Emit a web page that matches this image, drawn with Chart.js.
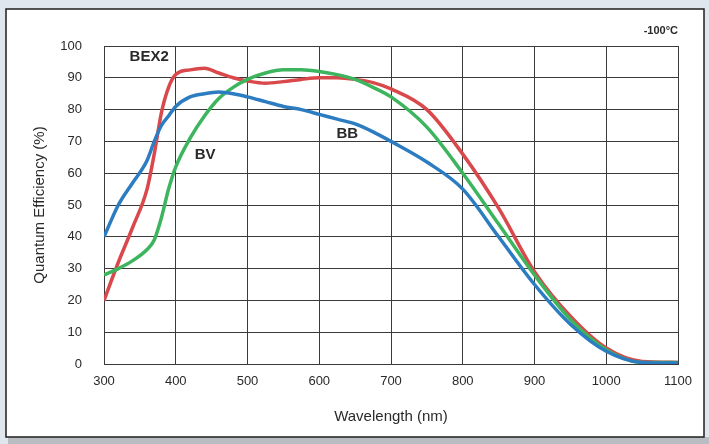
<!DOCTYPE html>
<html>
<head>
<meta charset="utf-8">
<script src="https://cdn.jsdelivr.net/npm/chart.js@4/dist/chart.umd.min.js"></script>
<style>
  html, body { margin: 0; padding: 0; background: #dfe6ee; }
  #wrap { width: 709px; height: 444px; position: relative; }
</style>
</head>
<body>
<div id="wrap"><canvas id="qe"></canvas></div>
<script>
// wavelength samples (nm)
const wavelengths = [300, 320, 340, 360, 370, 380, 390, 400, 420, 440, 460, 480, 500, 525, 550, 575, 600, 625, 650, 675, 700, 750, 800, 850, 900, 950, 1000, 1050, 1100]

// quantum efficiency (%)
const bex2 = [20, 32, 43, 55, 66, 79, 87, 91, 92.5, 93, 91.5, 90, 89, 88.3, 88.8, 89.5, 90, 90, 89.5, 88.5, 86.5, 80, 66, 49, 29, 15, 5, 0.8, 0.5]
const bv   = [28, 30, 32.5, 36, 39, 46, 55, 62, 71, 78, 83.5, 87, 89.5, 91.5, 92.5, 92.5, 92, 91, 89.5, 87, 84, 74.5, 60, 44, 28, 14, 4.5, 0.5, 0.5]
const bb   = [40, 50, 57, 64, 70, 75, 78, 81, 84, 85, 85.5, 85, 84, 82.5, 81, 80, 78.5, 77, 75.5, 73, 70, 63.5, 55, 40, 25, 12.5, 4, 0.5, 0.3]

const xTicks = [300, 400, 500, 600, 700, 800, 900, 1000, 1100]
const yTicks = [0, 10, 20, 30, 40, 50, 60, 70, 80, 90, 100]

// curve labels placed in data space
const curveLabels = [
  { text: "BEX2", x: 363, y: 96.5 },
  { text: "BV", x: 441, y: 65.7 },
  { text: "BB", x: 639, y: 72.3 }
]
const tempNote = "-100\u00b0C"

const red = "#d9484b"
const green = "#3db45e"
const blue = "#2b7cc0"
const ink = "#2a2a2a"

const toPoints = vals => wavelengths.map((w, i) => ({ x: w, y: vals[i] }))

const framePlugin = {
  id: "frame",
  beforeDraw(chart) {
    const ctx = chart.ctx
    ctx.save()
    ctx.fillStyle = "#b9bcc0"
    ctx.fillRect(8, 437, 701, 7)
    ctx.fillStyle = "#ffffff"
    ctx.fillRect(6, 9, 698, 428)
    ctx.strokeStyle = "#1e1e1e"
    ctx.lineWidth = 1.5
    ctx.strokeRect(6, 9, 698, 428)
    ctx.restore()
  },
  afterDraw(chart) {
    const { ctx, scales } = chart
    ctx.save()
    ctx.fillStyle = ink
    ctx.font = "bold 15px 'Liberation Sans', Arial, sans-serif"
    ctx.textAlign = "center"
    ctx.textBaseline = "middle"
    curveLabels.forEach(l => {
      ctx.fillText(l.text, scales.x.getPixelForValue(l.x), scales.y.getPixelForValue(l.y))
    })
    ctx.font = "bold 11px 'Liberation Sans', Arial, sans-serif"
    ctx.textAlign = "right"
    ctx.fillText(tempNote, chart.chartArea.right, 31)
    ctx.restore()
  }
}

new Chart(document.getElementById("qe"), {
  type: "line",
  data: {
    datasets: [
      { label: "BB", data: toPoints(bb), borderColor: blue },
      { label: "BV", data: toPoints(bv), borderColor: green },
      { label: "BEX2", data: toPoints(bex2), borderColor: red }
    ].map(d => ({ ...d, borderWidth: 3.5, pointRadius: 0, cubicInterpolationMode: "monotone", fill: false }))
  },
  options: {
    responsive: true,
    maintainAspectRatio: false,
    animation: false,
    layout: { padding: { left: 20, right: 31, top: 46, bottom: 10 } },
    plugins: { legend: { display: false }, tooltip: { enabled: false } },
    scales: {
      x: {
        type: "linear",
        min: 300,
        max: 1100,
        afterBuildTicks: s => { s.ticks = xTicks.map(v => ({ value: v })) },
        afterFit: s => { s.height = 70 },
        ticks: { color: ink, font: { family: "'Liberation Sans', Arial", size: 13 }, padding: 10, maxRotation: 0, callback: v => String(v) },
        grid: { color: "#3a3a3a", lineWidth: 1, drawTicks: false },
        border: { color: "#3a3a3a" },
        title: { display: true, text: "Wavelength (nm)", color: ink, font: { family: "'Liberation Sans', Arial", size: 15 }, padding: { top: 0, bottom: 8 } }
      },
      y: {
        min: 0,
        max: 100,
        afterBuildTicks: s => { s.ticks = yTicks.map(v => ({ value: v })) },
        afterFit: s => { s.width = 84 },
        ticks: { color: ink, font: { family: "'Liberation Sans', Arial", size: 13 }, padding: 22 },
        grid: { color: "#3a3a3a", lineWidth: 1, drawTicks: false },
        border: { color: "#3a3a3a" },
        title: { display: true, text: "Quantum Efficiency (%)", color: ink, font: { family: "'Liberation Sans', Arial", size: 15 }, padding: { top: 11, bottom: 0 } }
      }
    }
  },
  plugins: [framePlugin]
})
</script>
</body>
</html>
